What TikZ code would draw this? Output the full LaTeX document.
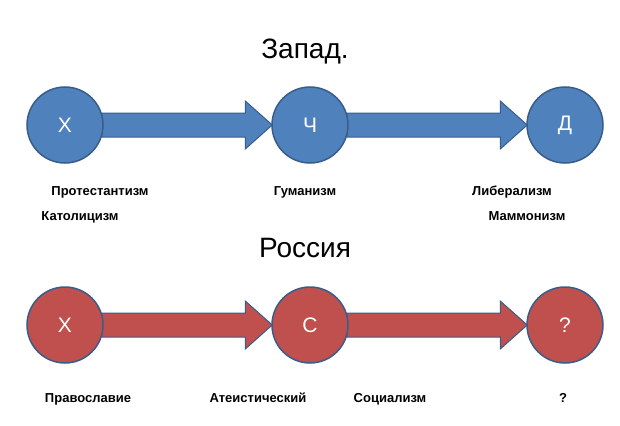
\documentclass[tikz,border=0pt]{standalone}
\usepackage{fontspec}
\setmainfont{Liberation Sans}
\usetikzlibrary{calc,backgrounds}
\definecolor{westblue}{HTML}{4F81BD}
\definecolor{eastred}{HTML}{C0504D}
\definecolor{rimblue}{HTML}{385D8A}
\tikzset{
  stage/.style={circle, draw=rimblue, line width=1.5pt, minimum size=76pt, inner sep=0pt, text=white, font=\fontsize{21}{21}\selectfont},
  caption/.style={font=\bfseries\fontsize{13}{14}\selectfont, inner sep=0pt, anchor=base},
  heading/.style={font=\fontsize{28}{28}\selectfont, inner sep=0pt}
}
\newcommand{\blockarrow}[3]{%
  \filldraw[fill=#3, draw=rimblue, line width=1pt]
    ($(#1.east)+(-2pt,12pt)$) -- ($(#2.west)+(-26pt,12pt)$) -- ($(#2.west)+(-26pt,24pt)$)
    -- ($(#2.west)+(1pt,0)$) -- ($(#2.west)+(-26pt,-24pt)$) -- ($(#2.west)+(-26pt,-12pt)$)
    -- ($(#1.east)+(-2pt,-12pt)$) -- cycle;}
\begin{document}
\begin{tikzpicture}[x=1pt,y=-1pt]
    \useasboundingbox (0,0) rectangle (620,425);
    % west row
    \node[heading] (west) at (305,52) {Запад.};
    \node[stage, fill=westblue] (wX) at (65,125) {Х};
    \node[stage, fill=westblue] (wCh) at (310,125) {Ч};
    \node[stage, fill=westblue] (wD) at (565,125) {Д};
    \node[caption] (prot) at (100,195) {Протестантизм};
    \node[caption] (kat) at (80,220) {Католицизм};
    \node[caption] (gum) at (305,195) {Гуманизм};
    \node[caption] (lib) at (512,195) {Либерализм};
    \node[caption] (mam) at (527,220) {Маммонизм};
    % russia row
    \node[heading] (rus) at (305,248) {Россия};
    \node[stage, fill=eastred] (rX) at (65,325) {Х};
    \node[stage, fill=eastred] (rS) at (310,325) {С};
    \node[stage, fill=eastred] (rQ) at (565,325) {?};
    \node[caption] (prav) at (88,402) {Православие};
    \node[caption] (ateism) at (258,402) {Атеистический};
    \node[caption] (soc) at (390,402) {Социализм};
    \node[caption] (que) at (563,402) {?};
    % arrows
    \begin{pgfonlayer}{background}
    \blockarrow{wX}{wCh}{westblue}
    \blockarrow{wCh}{wD}{westblue}
    \blockarrow{rX}{rS}{eastred}
    \blockarrow{rS}{rQ}{eastred}
    \end{pgfonlayer}
\end{tikzpicture}
\end{document}
